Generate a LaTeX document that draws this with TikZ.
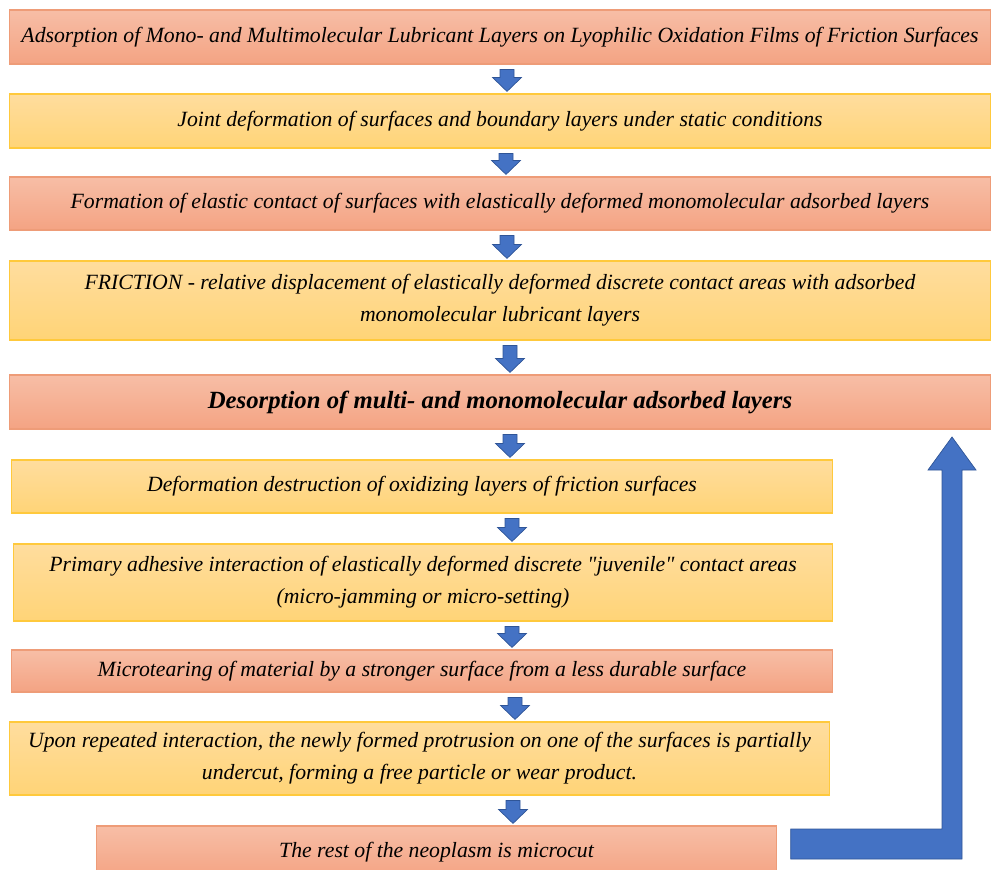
\documentclass[tikz,border=0pt]{standalone}
\usepackage{fontspec}
\setmainfont{Liberation Serif}[Ligatures=TeXOff]
\definecolor{salmontop}{HTML}{F7BEA6}
\definecolor{salmonbot}{HTML}{F4A383}
\definecolor{salmonline}{HTML}{EE9C78}
\definecolor{goldtop}{HTML}{FFDD9E}
\definecolor{goldbot}{HTML}{FFD477}
\definecolor{goldline}{HTML}{FFC93C}
\definecolor{arrowblue}{HTML}{4472C4}
\definecolor{arrowline}{HTML}{2F5597}
\usetikzlibrary{calc}

\begin{document}
\begin{tikzpicture}[x=0.025cm,y=-0.025cm,
  font=\fontsize{15.45}{22.8}\selectfont\itshape,
  stage/.style={draw=salmonline,line width=0.8pt,top color=salmontop,bottom color=salmonbot,inner sep=0pt,align=center},
  phase/.style={draw=goldline,line width=0.8pt,top color=goldtop,bottom color=goldbot,inner sep=0pt,align=center},
  flow/.style={fill=arrowblue,draw=arrowline,line width=0.5pt}]
\useasboundingbox (0,0) rectangle (992,869);
\clip (0,0) rectangle (992,869);

% Upper chain, full width
\node[stage,minimum width=24.5cm,minimum height=1.35cm] (b1) at (500,37)
  {Adsorption of Mono- and Multimolecular Lubricant Layers on Lyophilic Oxidation Films of Friction Surfaces};
\node[phase,minimum width=24.5cm,minimum height=1.35cm] (b2) at (500,121)
  {Joint deformation of surfaces and boundary layers under static conditions};
\node[stage,minimum width=24.5cm,minimum height=1.325cm] (b3) at (500,203.5)
  {Formation of elastic contact of surfaces with elastically deformed monomolecular adsorbed layers};
\node[phase,minimum width=24.5cm,minimum height=1.975cm] (b4) at (500,300.5)
  {FRICTION - relative displacement of elastically deformed discrete contact areas with adsorbed\\
   monomolecular lubricant layers};
\node[stage,minimum width=24.5cm,minimum height=1.35cm,font=\fontsize{17.6}{20}\selectfont\bfseries\itshape] (b5) at (500,402)
  {Desorption of multi- and monomolecular adsorbed layers};

% Wear chain
\node[phase,minimum width=20.5cm,minimum height=1.325cm] (b6) at (422,486.5)
  {Deformation destruction of oxidizing layers of friction surfaces};
\node[phase,minimum width=20.45cm,minimum height=1.925cm] (b7) at (423,582.5)
  {Primary adhesive interaction of elastically deformed discrete "juvenile" contact areas\\
   (micro-jamming or micro-setting)};
\node[stage,minimum width=20.5cm,minimum height=1.05cm] (b8) at (422,671)
  {Microtearing of material by a stronger surface from a less durable surface};
\node[phase,minimum width=20.475cm,minimum height=1.825cm] (b9) at (419.5,758.5)
  {Upon repeated interaction, the newly formed protrusion on one of the surfaces is partially\\
   undercut, forming a free particle or wear product.};
\node[stage,minimum width=16.975cm,minimum height=1.3cm] (b10) at (436.5,852)
  {The rest of the neoplasm is microcut};

% Block arrows between stages
\foreach \a/\b/\x in {b1/b2/507,b2/b3/506,b3/b4/507,b4/b5/510,b5/b6/510,b6/b7/512,b7/b8/512,b8/b9/515,b9/b10/513} {
  \coordinate (xx) at (\x,0);
  \coordinate (p) at (xx |- \a.south);
  \coordinate (q) at (xx |- \b.north);
  \filldraw[flow] ($(p)+(-7,5)$) -- ($(p)+(7,5)$) -- ($(q)+(7,-16)$) -- ($(q)+(14.5,-16)$)
    -- ($(q)+(0,-2)$) -- ($(q)+(-14.5,-16)$) -- ($(q)+(-7,-16)$) -- cycle;
}

% Return arrow back up to desorption
\coordinate (loopstart) at ($(b10.east)+(14,0)$);
\coordinate (looptip) at (952,437);
\filldraw[flow] ($(loopstart)+(0,-23)$) -- ($(looptip |- loopstart)+(-10,-23)$) -- ($(looptip)+(-10,33)$)
  -- ($(looptip)+(-24,33)$) -- (looptip) -- ($(looptip)+(24,33)$) -- ($(looptip)+(10,33)$)
  -- ($(looptip |- loopstart)+(10,7)$) -- ($(loopstart)+(0,7)$) -- cycle;

\end{tikzpicture}
\end{document}
